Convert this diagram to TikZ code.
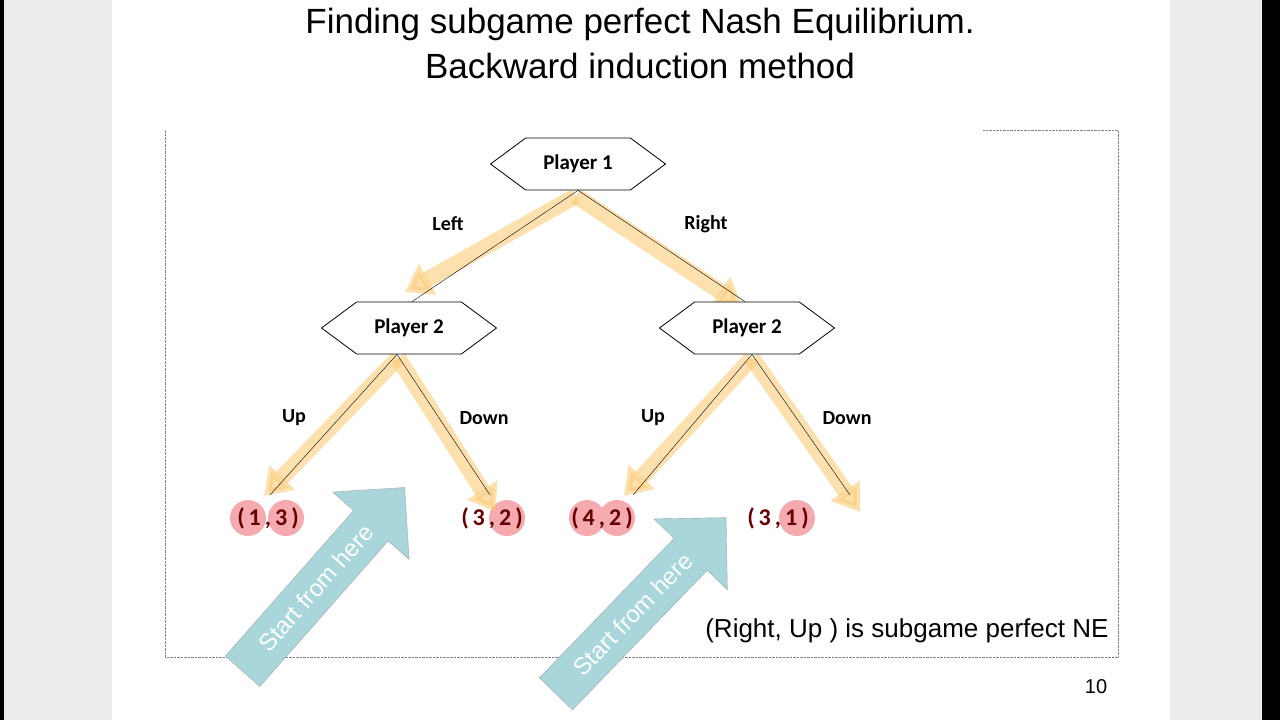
\documentclass[tikz,border=0pt]{standalone}
\usepackage{fontspec}
\setmainfont{Liberation Sans}
\newfontfamily\calib{Carlito}
\usetikzlibrary{shapes.symbols,shapes.arrows,arrows.meta}
\definecolor{hilite}{RGB}{250,200,110}
\definecolor{startblue}{RGB}{168,214,218}
\definecolor{dotred}{RGB}{244,170,175}
\tikzset{
  player/.style={draw, thick, signal, signal to=east and west, signal pointer angle=73,
    minimum width=175pt, minimum height=52pt, inner sep=0pt, fill=white,
    font=\calib\bfseries\fontsize{21}{21}\selectfont},
  move/.style={font=\calib\bfseries\fontsize{20}{20}\selectfont},
  payoff/.style={font=\calib\bfseries\fontsize{24}{24}\selectfont, text=black!60!red, inner sep=1pt},
  dot/.style={circle, fill=dotred, minimum size=36pt, inner sep=0pt},
  glow/.style={draw=hilite, opacity=0.55, line width=16pt, -{Triangle[length=26pt,width=34pt]}},
  start/.style={single arrow, draw=gray!70, fill=startblue, minimum height=245pt,
    minimum width=0pt, inner ysep=14pt, inner xsep=4pt, single arrow head extend=28pt,
    single arrow tip angle=90, text=white, font=\fontsize{24}{24}\selectfont}
}
\begin{document}
\begin{tikzpicture}[x=1pt,y=-1pt]
\useasboundingbox (0,0) rectangle (1280,720);
% slide and page margins
\fill[gray!15] (0,0) rectangle (112,720);
\fill[gray!15] (1170,0) rectangle (1280,720);
\fill[black] (0,0) rectangle (4,720);
\fill[black] (1262,0) rectangle (1280,720);
\draw[gray, densely dotted] (983,130) -- (1118,130) -- (1118,657) -- (165,657) -- (165,130);
% title
\node (title1) at (640,24) {\fontsize{35}{35}\selectfont Finding subgame perfect Nash Equilibrium.};
\node (title2) at (640,66) {\fontsize{35}{35}\selectfont Backward induction method};

% red marks behind the payoffs
\node[dot] (d1) at (248,518) {};
\node[dot] (d2) at (286,518) {};
\node[dot] (d3) at (507,518) {};
\node[dot] (d4) at (587,518) {};
\node[dot] (d5) at (617,518) {};
\node[dot] (d6) at (797,518) {};

% highlight arrows
\coordinate (g0) at (576,196);
\coordinate (g1) at (405,292);
\coordinate (g2) at (742,306);
\coordinate (g3) at (398,358);
\coordinate (g4) at (264,496);
\coordinate (g5) at (496,512);
\coordinate (g6) at (752,358);
\coordinate (g7) at (624,496);
\coordinate (g8) at (860,512);
\draw[glow] (g0) -- (g1);
\draw[glow] (g0) -- (g2);
\draw[glow] (g3) -- (g4);
\draw[glow] (g3) -- (g5);
\draw[glow] (g6) -- (g7);
\draw[glow] (g6) -- (g8);

% nodes of the tree
\node[player] (p1) at (578,164) {Player 1};
\node[player] (p2l) at (409,328) {Player 2};
\node[player] (p2r) at (747,328) {Player 2};

\node[payoff] (o1) at (268,518) {(\,1\,,\,3\,)};
\node[payoff] (o2) at (492,518) {(\,3\,,\,2\,)};
\node[payoff] (o3) at (602,518) {(\,4\,,\,2\,)};
\node[payoff] (o4) at (778,518) {(\,3\,,\,1\,)};

\coordinate (e1) at (270,495);
\coordinate (e2) at (490,495);
\coordinate (e3) at (633,495);
\coordinate (e4) at (850,495);

\draw (p1.south) -- ([xshift=3pt]p2l.north);
\draw (p1.south) -- ([xshift=-2pt]p2r.north);
\draw ([xshift=-12pt]p2l.south) -- (e1);
\draw ([xshift=-12pt]p2l.south) -- (e2);
\draw ([xshift=5pt]p2r.south) -- (e3);
\draw ([xshift=5pt]p2r.south) -- (e4);

\node[move] (left) at (448,224) {Left};
\node[move] (right) at (706,224) {Right};
\node[move] (up1) at (294,418) {Up};
\node[move] (down1) at (484,418) {Down};
\node[move] (up2) at (653,418) {Up};
\node[move] (down2) at (847,418) {Down};

% start arrows
\node[start, rotate=48.6] (s1) at (316,588) {Start from here};
\node[start, rotate=46] (s2) at (633,614) {Start from here};

\node[anchor=east] (ne) at (1112,631) {\fontsize{26}{26}\selectfont (Right, Up ) is subgame perfect NE};
\node (page) at (1096,687) {\fontsize{20}{20}\selectfont 10};
\end{tikzpicture}
\end{document}
